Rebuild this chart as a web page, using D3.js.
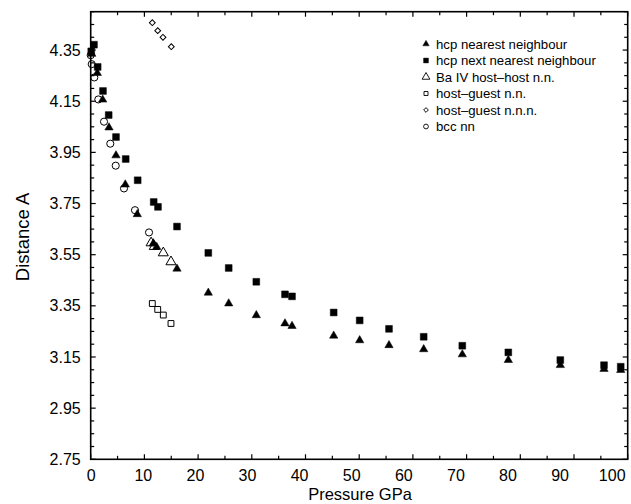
<!DOCTYPE html>
<html>
<head>
<meta charset="utf-8">
<script src="https://cdn.jsdelivr.net/npm/d3@7"></script>
<style>
  body { margin: 0; background: #fff; }
  svg { display: block; font-family: "Liberation Sans", Arial, sans-serif; }
</style>
</head>
<body>
<div id="chart"></div>
<script>
// data: [pressure GPa, distance A]
const hcpNearest = [[0.2,4.335],[1.23,4.26],[2.23,4.156],[3.41,4.047],[4.71,3.938],[6.44,3.824],[8.68,3.708],
  [11.66,3.594],[12.29,3.58],[16.07,3.495],[21.9,3.401],[25.7,3.359],[30.84,3.313],[36.18,3.281],[37.49,3.271],
  [45.25,3.233],[50.09,3.215],[55.55,3.196],[62.01,3.18],[69.2,3.16],[77.77,3.138],[87.45,3.118],[95.59,3.103],[98.7,3.099]];
const hcpNext = [[0.1,4.345],[0.61,4.371],[1.3,4.284],[2.29,4.19],[3.35,4.096],[4.71,4.01],[6.52,3.924],[8.75,3.841],
  [11.73,3.756],[12.53,3.737],[16.07,3.66],[21.9,3.557],[25.7,3.498],[30.84,3.444],[36.18,3.395],[37.49,3.387],
  [45.25,3.324],[50.09,3.293],[55.55,3.26],[62.01,3.229],[69.2,3.194],[77.77,3.168],[87.45,3.138],[95.59,3.118],[98.7,3.112]];
const baHostHost = [[11.25,3.596],[11.84,3.582],[13.52,3.557],[14.95,3.522]];
const hostGuestNN = [[11.47,3.359],[12.48,3.336],[13.52,3.314],[14.95,3.281]];
const hostGuestNNN = [[11.47,4.457],[12.48,4.426],[13.46,4.4],[15.01,4.363]];
const bccNN = [[0,4.33],[0.19,4.295],[0.67,4.243],[1.42,4.157],[2.48,4.07],[3.65,3.984],[4.66,3.898],[6.2,3.809],[8.25,3.724],[10.86,3.637]];

const seriesNames = ["hcp nearest neighbour", "hcp next nearest neighbour", "Ba IV host\u2013host n.n.",
  "host\u2013guest n.n.", "host\u2013guest n.n.n.", "bcc nn"];
const xTickLabels = [0, 10, 20, 30, 40, 50, 60, 70, 80, 90, 100];
const yTickLabels = [2.75, 2.95, 3.15, 3.35, 3.55, 3.75, 3.95, 4.15, 4.35];

const W = 631, H = 504;
const box = { left: 90.7, top: 11.7, right: 627.7, bottom: 459.3 };

const series = [
  { name: seriesNames[0], data: hcpNearest, type: d3.symbolTriangle, size: 30, leg: 18, fill: "#000" },
  { name: seriesNames[1], data: hcpNext, type: d3.symbolSquare, size: 46, leg: 24, fill: "#000" },
  { name: seriesNames[2], data: baHostHost, type: d3.symbolTriangle, size: 44, leg: 26, fill: "none" },
  { name: seriesNames[3], data: hostGuestNN, type: d3.symbolSquare, size: 34, leg: 16, fill: "none" },
  { name: seriesNames[4], data: hostGuestNNN, type: d3.symbolSquare, size: 17, leg: 11, fill: "none", rot: 45 },
  { name: seriesNames[5], data: bccNN, type: d3.symbolCircle, size: 40, leg: 18, fill: "none" }
];

const svg = d3.select("#chart").append("svg")
  .attr("width", W).attr("height", H);

const x = d3.scaleLinear().domain([0, 100]).range([box.left, box.right]);
// tick labels in the original sit on a slightly tighter scale than the ticks
const xLab = d3.scaleLinear().domain([0, 100]).range([box.left, 611.7]);
const y = d3.scaleLinear().domain([2.75, 4.5]).range([box.bottom, box.top]);

const xMinor = d3.range(0, 101, 5);
const yMinor = d3.range(0, 36).map(i => +(2.75 + i * 0.05).toFixed(2));
const isMajorX = v => v % 10 === 0;
const isMajorY = v => yTickLabels.some(t => Math.abs(t - v) < 1e-6);

// ticks (pointing inward on all four sides)
const ticks = svg.append("g").attr("stroke", "#000").attr("stroke-width", 1.2);
xMinor.forEach(v => {
  const len = isMajorX(v) ? 5 : 3.5;
  ticks.append("line").attr("x1", x(v)).attr("x2", x(v)).attr("y1", box.bottom).attr("y2", box.bottom - len);
  ticks.append("line").attr("x1", x(v)).attr("x2", x(v)).attr("y1", box.top).attr("y2", box.top + len);
});
yMinor.forEach(v => {
  const len = isMajorY(v) ? 5 : 3.5;
  ticks.append("line").attr("y1", y(v)).attr("y2", y(v)).attr("x1", box.left).attr("x2", box.left + len);
  ticks.append("line").attr("y1", y(v)).attr("y2", y(v)).attr("x1", box.right).attr("x2", box.right - len);
});

// frame
svg.append("rect")
  .attr("x", box.left).attr("y", box.top)
  .attr("width", box.right - box.left).attr("height", box.bottom - box.top)
  .attr("fill", "none").attr("stroke", "#000").attr("stroke-width", 1.6);

// tick labels
const xAxis = svg.append("g")
  .attr("transform", `translate(0,${box.bottom})`)
  .call(d3.axisBottom(xLab).tickValues(xTickLabels).tickSize(0).tickPadding(10).tickFormat(d3.format("d")));
const yAxis = svg.append("g")
  .attr("transform", `translate(${box.left},0)`)
  .call(d3.axisLeft(y).tickValues(yTickLabels).tickSize(0).tickPadding(10).tickFormat(d3.format(".2f")));
[xAxis, yAxis].forEach(a => {
  a.select(".domain").remove();
  a.selectAll("text").attr("font-size", 16).attr("fill", "#000")
    .attr("font-family", "'Liberation Sans', Arial, sans-serif");
});

// axis titles
svg.append("text")
  .attr("x", 360).attr("y", 500)
  .attr("text-anchor", "middle").attr("font-size", 16.5)
  .text("Pressure GPa");
svg.append("text")
  .attr("transform", `translate(29,237) rotate(-90)`)
  .attr("text-anchor", "middle").attr("font-size", 18.5)
  .text("Distance A");

// points
series.forEach(s => {
  const sym = d3.symbol().type(s.type).size(s.size);
  svg.append("g").selectAll("path")
    .data(s.data)
    .join("path")
    .attr("transform", d => `translate(${x(d[0])},${y(d[1])})` + (s.rot ? ` rotate(${s.rot})` : ""))
    .attr("d", sym)
    .attr("fill", s.fill === "none" ? "none" : "#000")
    .attr("stroke", "#000")
    .attr("stroke-width", s.fill === "none" ? 1 : 0.5);
});

// legend
const leg = svg.append("g").attr("transform", "translate(426,44)");
series.forEach((s, i) => {
  const row = leg.append("g").attr("transform", `translate(0,${i * 16.5})`);
  row.append("path")
    .attr("d", d3.symbol().type(s.type).size(s.leg))
    .attr("transform", s.rot ? "rotate(45)" : null)
    .attr("fill", s.fill === "none" ? "none" : "#000")
    .attr("stroke", "#000")
    .attr("stroke-width", s.fill === "none" ? 0.9 : 0.4);
  row.append("text")
    .attr("x", 10).attr("dy", "0.36em")
    .attr("font-size", 13.2)
    .text(s.name);
});
</script>
</body>
</html>
